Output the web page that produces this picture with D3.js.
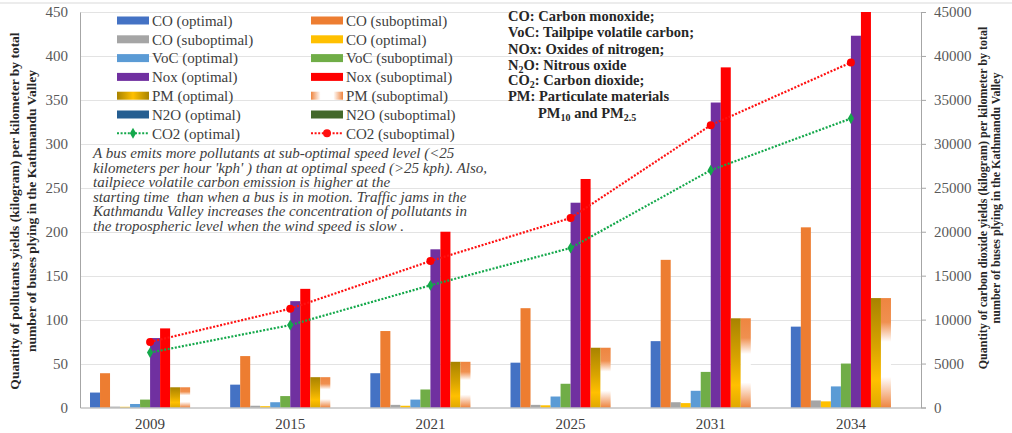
<!DOCTYPE html>
<html>
<head>
<meta charset="utf-8">
<script src="https://cdn.jsdelivr.net/npm/d3@7"></script>
<style>
  html, body { margin: 0; padding: 0; background: #fff; }
  svg { display: block; font-family: "Liberation Serif", "Times New Roman", serif; }
</style>
</head>
<body>
<svg id="chart" width="1012" height="433"></svg>
<script>
// Emission yields per kilometre for the Kathmandu Valley bus fleet
const years = ["2009", "2015", "2021", "2025", "2031", "2034"];

const seriesNames = [
  "CO (optimal)", "CO (suboptimal)", "CO (suboptimal)", "CO (optimal)",
  "VoC (optimal)", "VoC (suboptimal)", "Nox (optimal)", "Nox (suboptimal)",
  "PM (optimal)", "PM (suboptimal)", "N2O (optimal)", "N2O (suboptimal)"
];

const coOptimal      = [17, 26, 39, 51, 75.5, 92];
const coSuboptimal   = [39, 58.5, 87, 113, 168, 205];
const coSubGray      = [1, 2, 3, 3, 6, 8];
const coOptYellow    = [0.8, 1.5, 2, 2.5, 5, 7];
const vocOptimal     = [4, 6, 9, 12.5, 19, 24];
const vocSuboptimal  = [9, 13, 20.5, 27, 40.5, 50];
const noxOptimal     = [79, 121, 180, 233, 347, 423];
const noxSuboptimal  = [90, 135, 200, 260, 387, 450];
const pmOptimal      = [23, 34.5, 52, 68, 101.5, 124.5];
const pmSuboptimal   = [23, 34.5, 52, 68, 101.5, 124.5];
const n2oOptimal     = [0, 0, 0, 0, 0, 0];
const n2oSuboptimal  = [0, 0, 0, 0, 0, 0];

const co2Optimal     = [6250, 9375, 13900, 18150, 27000, 32880];
const co2Suboptimal  = [7460, 11240, 16660, 21560, 32120, 39260];

const leftTicks  = [0, 50, 100, 150, 200, 250, 300, 350, 400, 450];
const rightTicks = [0, 5000, 10000, 15000, 20000, 25000, 30000, 35000, 40000, 45000];

const barValues = [
  coOptimal, coSuboptimal, coSubGray, coOptYellow, vocOptimal, vocSuboptimal,
  noxOptimal, noxSuboptimal, pmOptimal, pmSuboptimal, n2oOptimal, n2oSuboptimal
];
const barFills = [
  "#4472C4", "#ED7D31", "#A5A5A5", "#FFC000", "#5B9BD5", "#70AD47",
  "#7030A0", "#FF0000", "url(#pmOptV)", "url(#pmSubV)", "#255E91", "#43682B"
];
const legendFills = [
  "#4472C4", "#ED7D31", "#A5A5A5", "#FFC000", "#5B9BD5", "#70AD47",
  "#7030A0", "#FF0000", "url(#pmOptH)", "url(#pmSubH)", "#255E91", "#43682B"
];

const svg = d3.select("#chart");
const W = 1012, H = 433;
const plot = { left: 80, right: 921, top: 12, bottom: 407.5 };

// gradients for the particulate-matter series
const defs = svg.append("defs");
function gradient(id, horizontal, stops) {
  const g = defs.append("linearGradient").attr("id", id)
    .attr("x1", 0).attr("y1", 0)
    .attr("x2", horizontal ? 1 : 0).attr("y2", horizontal ? 0 : 1);
  stops.forEach(([o, c]) => g.append("stop").attr("offset", o).attr("stop-color", c));
}
gradient("pmOptV", false, [[0, "#A88300"], [0.45, "#D9A400"], [0.75, "#FFC000"], [1, "#E0A800"]]);
gradient("pmSubV", false, [[0, "#EE8540"], [0.22, "#F09050"], [0.4, "#FFFFFF"], [0.72, "#FFFFFF"], [1, "#EE8540"]]);
gradient("pmOptH", true, [[0, "#A88300"], [0.5, "#FFC000"], [1, "#A88300"]]);
gradient("pmSubH", true, [[0, "#EE8540"], [0.3, "#FFFFFF"], [0.7, "#FFFFFF"], [1, "#EE8540"]]);

// scales
const x = d3.scaleBand().domain(years).range([plot.left, plot.right]).padding(0);
const xs = d3.scaleBand().domain(d3.range(seriesNames.length))
  .range([0, x.bandwidth()]).paddingInner(0).paddingOuter(1);
const y = d3.scaleLinear().domain([0, 450]).range([plot.bottom, plot.top]);
const y2 = d3.scaleLinear().domain([0, 45000]).range([plot.bottom, plot.top]);

// outer frame top edge
svg.append("line").attr("x1", 0).attr("x2", W).attr("y1", 3).attr("y2", 3)
  .attr("stroke", "#d9d9d9").attr("stroke-width", 1);

// gridlines
svg.append("g").selectAll("line").data(leftTicks.filter(d => d > 0)).join("line")
  .attr("x1", plot.left).attr("x2", plot.right)
  .attr("y1", d => Math.round(y(d)) + 0.5).attr("y2", d => Math.round(y(d)) + 0.5)
  .attr("stroke", "#e3e3e3").attr("stroke-width", 1);

// bars
const barsG = svg.append("g");
barValues.forEach((vals, si) => {
  barsG.append("g").selectAll("rect").data(vals).join("rect")
    .attr("x", (d, i) => x(years[i]) + xs(si))
    .attr("width", xs.bandwidth())
    .attr("y", d => y(d))
    .attr("height", d => plot.bottom - y(d))
    .attr("fill", barFills[si]);
});

// left axis
const leftAxis = d3.axisLeft(y).tickValues(leftTicks).tickSize(0).tickPadding(12);
const gl = svg.append("g").attr("transform", `translate(${plot.left},0)`).call(leftAxis);
gl.select(".domain").attr("stroke", "#a6a6a6");
gl.selectAll("text").attr("fill", "#595959").style("font-size", "15px")
  .style("font-family", "'Liberation Serif', serif");

// right axis
const rightAxis = d3.axisRight(y2).tickValues(rightTicks).tickFormat(d3.format("d"))
  .tickSize(5).tickSizeOuter(5).tickPadding(8);
const gr = svg.append("g").attr("transform", `translate(${plot.right},0)`).call(rightAxis);
gr.select(".domain").attr("stroke", "#a6a6a6");
gr.selectAll(".tick line").attr("stroke", "#a6a6a6");
gr.selectAll("text").attr("fill", "#595959").style("font-size", "15px")
  .style("font-family", "'Liberation Serif', serif");

// bottom axis
const bottomAxis = d3.axisBottom(x).tickSize(0).tickPadding(11);
const gb = svg.append("g").attr("transform", `translate(0,${plot.bottom})`).call(bottomAxis);
gb.select(".domain").attr("stroke", "#a6a6a6");
gb.selectAll("text").attr("fill", "#404040").style("font-size", "15px")
  .style("font-family", "'Liberation Serif', serif");

// CO2 lines on the secondary axis
const line2 = d3.line().x((d, i) => x(years[i]) + x.bandwidth() / 2).y(d => y2(d));
svg.append("path").datum(co2Optimal).attr("d", line2)
  .attr("fill", "none").attr("stroke", "#14A84B").attr("stroke-width", 2.2)
  .attr("stroke-dasharray", "2,1.6");
svg.append("path").datum(co2Suboptimal).attr("d", line2)
  .attr("fill", "none").attr("stroke", "#FF1010").attr("stroke-width", 2.2)
  .attr("stroke-dasharray", "2,1.6");
const diamond = d3.symbol().type(d3.symbolDiamond).size(34);
svg.append("g").selectAll("path").data(co2Optimal).join("path")
  .attr("d", diamond)
  .attr("transform", (d, i) => `translate(${x(years[i]) + x.bandwidth() / 2},${y2(d)})`)
  .attr("fill", "#14A84B");
svg.append("g").selectAll("circle").data(co2Suboptimal).join("circle")
  .attr("cx", (d, i) => x(years[i]) + x.bandwidth() / 2)
  .attr("cy", d => y2(d)).attr("r", 4).attr("fill", "#FF0000");

// legend
const legendItems = seriesNames.map((n, i) => ({ name: n, type: "bar", fill: legendFills[i] }))
  .concat([
    { name: "CO2 (optimal)", type: "line", color: "#14A84B", marker: "diamond" },
    { name: "CO2 (suboptimal)", type: "line", color: "#FF1010", marker: "circle" }
  ]);
const legend = svg.append("g").style("font-size", "15px").attr("fill", "#404040");
legendItems.forEach((it, i) => {
  const col = i % 2, row = Math.floor(i / 2);
  const sx = col === 0 ? 117 : 311;
  const cy = 20.5 + row * 18.8;
  const g = legend.append("g");
  if (it.type === "bar") {
    g.append("rect").attr("x", sx).attr("y", cy - 4).attr("width", 32).attr("height", 8).attr("fill", it.fill);
  } else {
    g.append("line").attr("x1", sx).attr("x2", sx + 32).attr("y1", cy).attr("y2", cy)
      .attr("stroke", it.color).attr("stroke-width", 2).attr("stroke-dasharray", "2,1.6");
    if (it.marker === "diamond") {
      g.append("path").attr("d", diamond).attr("transform", `translate(${sx + 16},${cy})`).attr("fill", it.color);
    } else {
      g.append("circle").attr("cx", sx + 16).attr("cy", cy).attr("r", 4).attr("fill", it.color);
    }
  }
  g.append("text").attr("x", sx + 35).attr("y", cy).attr("dy", "0.35em").text(it.name);
});

// abbreviations key
const key = svg.append("g").style("font-size", "14.5px").style("font-weight", "bold").attr("fill", "#262626");
const keyLines = [
  [["CO: Carbon monoxide;"]],
  [["VoC: Tailpipe volatile carbon;"]],
  [["NOx: Oxides of nitrogen;"]],
  [["N"], ["2", "sub"], ["O: Nitrous oxide"]],
  [["CO"], ["2", "sub"], [": Carbon dioxide;"]],
  [["PM: Particulate materials"]],
  [["PM"], ["10", "sub"], [" and PM"], ["2.5", "sub"]]
];
const keyY = [16, 32.3, 48.6, 64.5, 80.4, 96.4, 113];
keyLines.forEach((parts, i) => {
  const t = key.append("text").attr("x", i === 6 ? 538 : 508).attr("y", keyY[i]).attr("dy", "0.35em");
  parts.forEach(([s, kind]) => {
    const ts = t.append("tspan").text(s);
    if (kind === "sub") ts.attr("baseline-shift", "-25%").style("font-size", "10px");
  });
});

// explanatory note
const note = [
  "A bus emits more pollutants at sub-optimal speed level (<25",
  "kilometers per hour 'kph' ) than at optimal speed (>25 kph). Also,",
  "tailpiece volatile carbon emission is higher at the",
  "starting time  than when a bus is in motion. Traffic jams in the",
  "Kathmandu Valley increases the concentration of pollutants in",
  "the tropospheric level when the wind speed is slow ."
];
svg.append("g").style("font-size", "15px").style("font-style", "italic").attr("fill", "#404040")
  .selectAll("text").data(note).join("text")
  .attr("x", 93).attr("y", (d, i) => 152.7 + i * 14.6).attr("dy", "0.35em")
  .attr("xml:space", "preserve").style("white-space", "pre").text(d => d);

// axis titles
function title(lines, cx, cy, gap, size) {
  const t = svg.append("text").attr("transform", `translate(${cx},${cy}) rotate(-90)`)
    .attr("text-anchor", "middle").style("font-size", size).style("font-weight", "bold").attr("fill", "#262626");
  lines.forEach((l, i) => t.append("tspan").attr("x", 0).attr("y", i * gap).attr("dy", "0.35em").text(l));
}
title(["Quantity of pollutants yields (kilogram) per kilometer by total",
       "number of buses plying in the Kathmandu Valley"], 14, 211, 17, "13.5px");
title(["Quantity of carbon dioxide yields (kilogram) per kilometer by total",
       "number of buses plying in the Kathmandu Valley"], 983, 198, 13, "12px");
</script>
</body>
</html>
